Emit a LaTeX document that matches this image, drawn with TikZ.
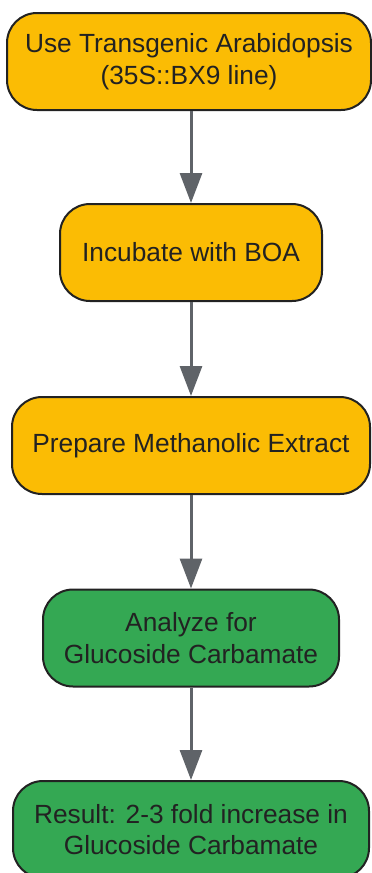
\documentclass[tikz,border=0pt]{standalone}
\usepackage{fontspec}
\setmainfont{Liberation Sans}
\usetikzlibrary{arrows.meta}

\definecolor{stepyellow}{HTML}{FBBC04}
\definecolor{stepgreen}{HTML}{34A853}
\definecolor{arrowgray}{HTML}{5F6368}
\definecolor{textdark}{HTML}{222222}

\begin{document}
\begin{tikzpicture}

    \useasboundingbox (0pt,0pt) rectangle (372pt,-873pt);

        \begin{scope}[every node/.style={rounded corners=30pt,draw=textdark,line width=2pt,text=textdark,align=center,minimum height=97pt,inner sep=0pt,font=\fontsize{26.3}{31.5}\selectfont}]
            \node[fill=stepyellow,minimum width=364pt] (1) at (189pt,-61.5pt) {Use Transgenic Arabidopsis\\(35S::BX9 line)};
            \node[fill=stepyellow,minimum width=262pt] (2) at (191pt,-252.5pt) {Incubate with BOA};
            \node[fill=stepyellow,minimum width=358pt] (3) at (191pt,-445.5pt) {Prepare Methanolic Extract};
            \node[fill=stepgreen,minimum width=296pt] (4) at (191pt,-638pt) {Analyze for\\Glucoside Carbamate};
            \node[fill=stepgreen,minimum width=356pt] (5) at (191pt,-829.5pt) {Result: 2-3 fold increase in\\Glucoside Carbamate};
        \end{scope}

        \begin{scope}[every edge/.style={draw=arrowgray,line width=3pt}]
            \path [-{Triangle[width=22pt,length=30pt]}] (1.south -| 2.north) edge (2.north)
                  (2) edge (3)
                  (3) edge (4)
                  (4) edge (5);
        \end{scope}

    \end{tikzpicture}
\end{document}
